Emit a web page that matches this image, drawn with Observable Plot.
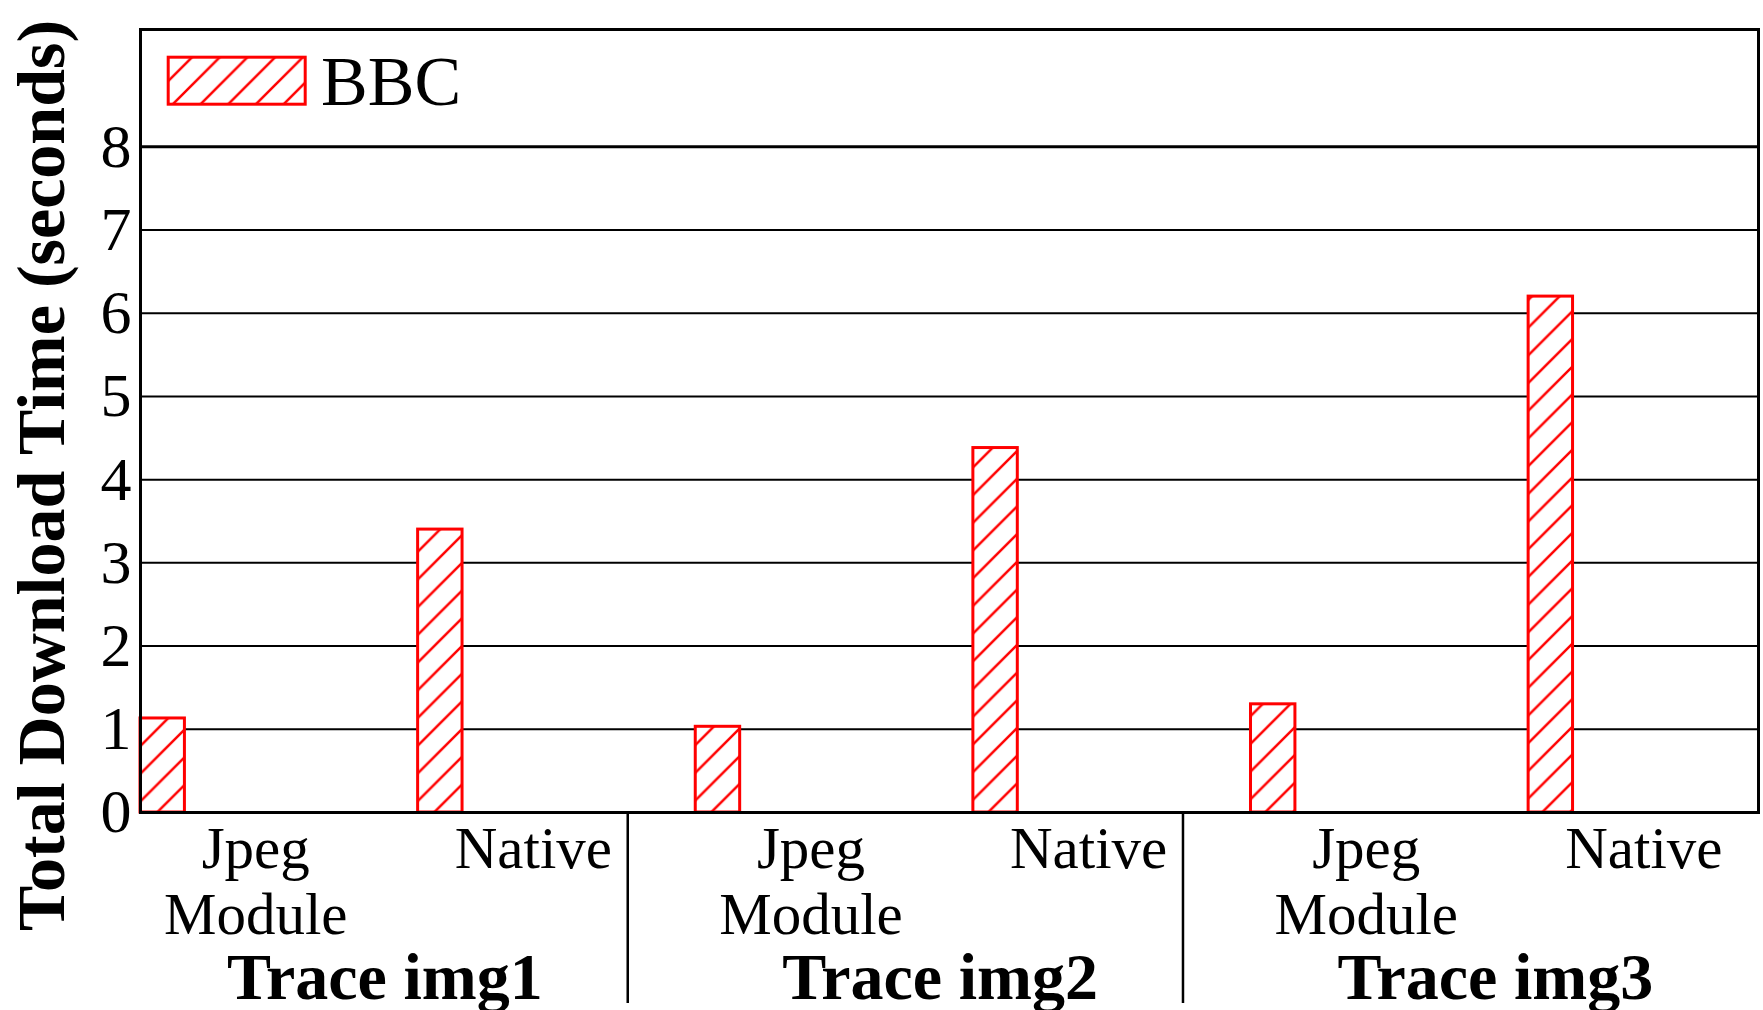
<!DOCTYPE html>
<html>
<head>
<meta charset="utf-8">
<script src="https://cdn.jsdelivr.net/npm/d3@7"></script>
<script src="https://cdn.jsdelivr.net/npm/@observablehq/plot@0.6"></script>
<style>
  html, body { margin: 0; padding: 0; background: white; }
  #chart svg { display: block; }
</style>
</head>
<body>
<div id="chart"></div>
<script>
// ---- data ----
const seriesName = "BBC";
const traces = ["Trace img1", "Trace img2", "Trace img3"];
const methods = ["Jpeg\nModule", "Native"];
const bbcValues = [1.13, 3.40, 1.03, 4.38, 1.30, 6.20]; // per trace: Jpeg Module, Native
const yTicks = [0, 1, 2, 3, 4, 5, 6, 7, 8];
const yLabel = "Total Download Time (seconds)";

// table built from the arrays
const bars = bbcValues.map((v, i) => ({
  i,
  trace: traces[Math.floor(i / methods.length)],
  method: methods[i % methods.length],
  value: v
}));
const groups = traces.map((t, g) => {
  const idx = bars.filter(b => b.trace === t).map(b => b.i);
  return {trace: t, center: d3.mean(idx), last: d3.max(idx), g};
});

const W = 1763, H = 1010;
const mL = 140, mR = 5, mT = 29, mB = 198;
const halfW = 0.08;
const font = "'Liberation Serif', 'Times New Roman', Times, serif";

const svg = Plot.plot({
  width: W,
  height: H,
  marginLeft: mL,
  marginRight: mR,
  marginTop: mT,
  marginBottom: mB,
  style: {fontFamily: font, background: "white", color: "black", overflow: "visible"},
  x: {domain: [-0.08, 5.748], axis: null},
  y: {domain: [0, 9.41], axis: null},
  marks: [
    Plot.ruleY(yTicks.filter(t => t > 0 && t < 8), {stroke: "black", strokeWidth: 2}),
    Plot.ruleY(yTicks.filter(t => t === 8), {stroke: "black", strokeWidth: 3}),
    Plot.rectY(bars, {
      x1: d => d.i - halfW,
      x2: d => d.i + halfW,
      y1: 0,
      y2: "value",
      fill: "url(#hatch)",
      stroke: "#ff0000",
      strokeWidth: 3
    }),
    Plot.frame({stroke: "black", strokeWidth: 3}),
    Plot.axisY(yTicks, {
      tickSize: 0,
      tickPadding: 9,
      tickFormat: d => String(d),
      fontSize: 62,
      label: null,
      fill: "black"
    }),
    // method tick labels
    Plot.text(bars, {
      x: d => d.i + 0.335,
      text: "method",
      frameAnchor: "bottom",
      lineAnchor: "top",
      textAnchor: "middle",
      dy: 9,
      fontSize: 59,
      lineHeight: 1.12,
      fill: "black"
    }),
    // trace group labels
    Plot.text(groups, {
      x: d => d.center + 0.3,
      text: "trace",
      frameAnchor: "bottom",
      lineAnchor: "top",
      textAnchor: "middle",
      dy: 140,
      fontSize: 66,
      fontWeight: "bold",
      fill: "black"
    }),
    // group separators below axis
    Plot.ruleX(groups.filter(d => d.g < groups.length - 1), {
      x: d => d.last + 0.675,
      insetTop: H - mT - mB,
      insetBottom: -191,
      stroke: "black",
      strokeWidth: 2.5
    }),
    // y axis title
    Plot.text([yLabel], {
      frameAnchor: "left",
      dx: -98,
      dy: 54.5,
      rotate: -90,
      lineAnchor: "middle",
      textAnchor: "middle",
      fontSize: 68,
      fontWeight: "bold",
      fill: "black"
    })
  ]
});

// hatch pattern
const s = 27.7;
const sel = d3.select(svg);
const pat = sel.insert("defs", ":first-child")
  .append("pattern")
  .attr("id", "hatch")
  .attr("patternUnits", "userSpaceOnUse")
  .attr("width", s)
  .attr("height", s);
pat.append("rect").attr("width", s).attr("height", s).attr("fill", "white");
pat.append("path")
  .attr("d", `M0,${s} L${s},0 M${-s/2},${s/2} L${s/2},${-s/2} M${s/2},${3*s/2} L${3*s/2},${s/2}`)
  .attr("stroke", "#ff0000")
  .attr("stroke-width", 2.5)
  .attr("fill", "none");

// legend inside frame
const leg = sel.append("g").attr("class", "legend");
leg.append("rect")
  .attr("x", 168.2).attr("y", 57.2)
  .attr("width", 137).attr("height", 47)
  .attr("fill", "url(#hatch)")
  .attr("stroke", "#ff0000")
  .attr("stroke-width", 3);
leg.append("text")
  .attr("x", 321).attr("y", 105)
  .attr("text-anchor", "start")
  .attr("font-family", font)
  .attr("font-size", 70)
  .attr("fill", "black")
  .text(seriesName);

document.getElementById("chart").appendChild(svg);
</script>
</body>
</html>
